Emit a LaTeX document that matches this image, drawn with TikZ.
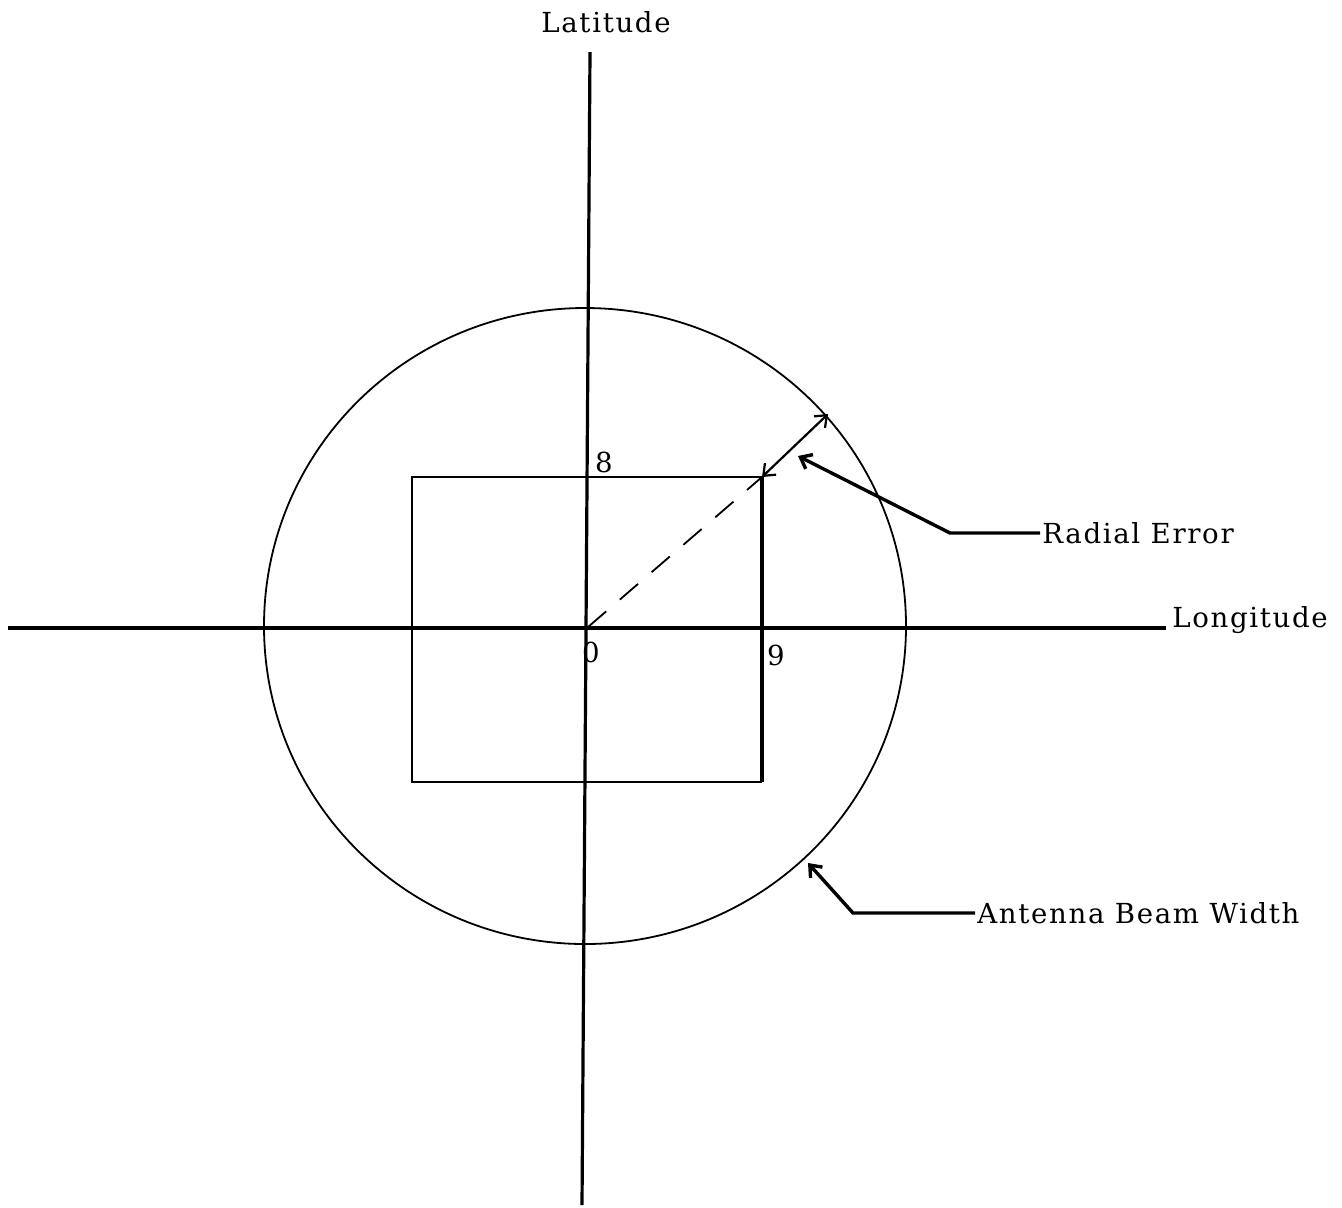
\documentclass[tikz,border=0pt]{standalone}
\usepackage{fontspec}
\setmainfont{DejaVu Serif}[LetterSpace=6]
\usetikzlibrary{arrows.meta}
\begin{document}
\begin{tikzpicture}[x=0.5pt,y=-0.5pt,
  lbl/.style={font=\fontsize{13.8}{16}\selectfont, inner sep=1pt},
  axis/.style={line width=1.6pt},
  thin/.style={line width=0.9pt},
  ptr/.style={line width=1.7pt, -{Straight Barb[length=5pt,width=8pt]}},
  dbl/.style={line width=1.1pt, {Straight Barb[length=5pt,width=8pt]}-{Straight Barb[length=5pt,width=8pt]}}]
\useasboundingbox (0,0) rectangle (1342,1207);
% labels
\node[lbl] (lat) at (606,22) {Latitude};
\node[lbl,anchor=west] (lon) at (1170,620) {Longitude};
\node[lbl,anchor=west] (rad) at (1040,533) {Radial Error};
\node[lbl,anchor=west] (ant) at (975,913) {Antenna Beam Width};
\node[lbl] (n8) at (604,462) {8};
\node[lbl] (n0) at (591,652) {0};
\node[lbl] (n9) at (776,655) {9};
% coordinates
\coordinate (vtop) at (590,52);
\coordinate (vbot) at (582,1205);
\coordinate (hl) at (8,628);
\coordinate (hr) at (1166,628);
\coordinate (O) at (588,627);
\coordinate (C) at (762,477);
\coordinate (E) at (828,414);
% axes
\draw[axis] (vtop) -- (vbot);
\draw[axis] (hl) -- (hr);
% circle
\draw[thin] (585,626) ellipse [x radius=321, y radius=318];
% square
\draw[line width=1.4pt] (762,477) -- (412,477) -- (412,782) -- (762,782);
\draw[line width=2.1pt] (762,477) -- (762,782);
% dashed radius
\draw[line width=0.9pt, dash pattern=on 12pt off 9pt] (O) -- (C);
% radial error arrow
\draw[dbl] (C) -- (E);
\coordinate (rb) at (950,533);
\coordinate (rt) at (798,456);
\draw[ptr] (rad.west) -- (rb) -- (rt);
% antenna arrow
\coordinate (ab) at (853,913);
\coordinate (at) at (808,863);
\draw[ptr] (ant.west) -- (ab) -- (at);
\end{tikzpicture}
\end{document}
